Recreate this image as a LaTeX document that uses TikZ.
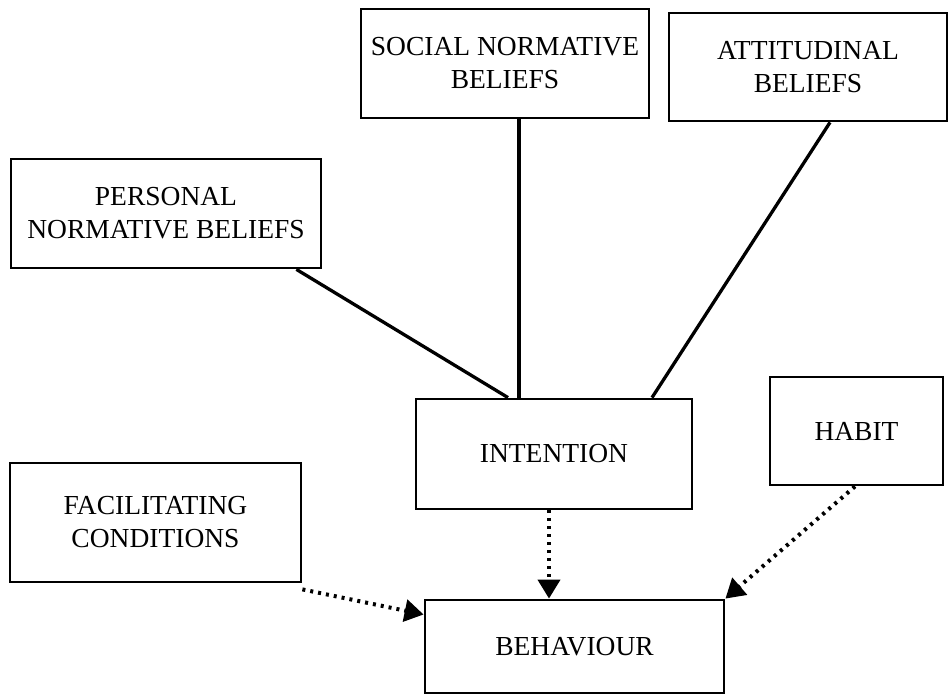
\documentclass[tikz,border=0pt]{standalone}
\usepackage{fontspec}
\setmainfont{Liberation Serif}
\usetikzlibrary{arrows.meta}
\begin{document}
\begin{tikzpicture}[x=1pt,y=1pt,
  box/.style={draw=black, line width=2.8pt, rectangle, inner sep=0pt, align=center,
    font=\fontsize{27.5}{33}\selectfont},
  conn/.style={draw=black, line width=3.3pt},
  dotarrow/.style={draw=black, line width=4pt, dash pattern=on 3pt off 5pt,
    -{Triangle[length=19pt,width=22pt]}}]
\useasboundingbox (0,0) rectangle (949,696);
\fill[white] (0,0) rectangle (949,696);
\node[box, minimum width=288pt, minimum height=109pt] (soc) at (505,632.5) {SOCIAL NORMATIVE\\BELIEFS};
\node[box, minimum width=278pt, minimum height=108pt] (att) at (808,629) {ATTITUDINAL\\BELIEFS};
\node[box, minimum width=310pt, minimum height=109pt] (per) at (166,482.5) {PERSONAL\\NORMATIVE BELIEFS};
\node[box, minimum width=276pt, minimum height=110pt] (int) at (554,242) {INTENTION};
\node[box, minimum width=173pt, minimum height=108pt] (hab) at (856.5,265) {HABIT};
\node[box, minimum width=291pt, minimum height=119pt] (fac) at (155.5,173.5) {FACILITATING\\CONDITIONS};
\node[box, minimum width=299pt, minimum height=93pt] (beh) at (574.5,49.5) {\raisebox{-9pt}{BEHAVIOUR}};
\draw[conn] ([xshift=-26pt]per.south east) -- ([xshift=-46pt]int.north);
\draw[conn] ([xshift=14pt]soc.south) -- ([xshift=-35pt]int.north);
\draw[conn] ([xshift=22pt]att.south) -- ([xshift=98pt]int.north);
\draw[dotarrow] ([xshift=-5pt]int.south) -- ([xshift=-25.5pt]beh.north);
\draw[dotarrow] ([xshift=-1.5pt]hab.south) -- (beh.north east);
\draw[dotarrow] ([yshift=-6pt]fac.south east) -- ([yshift=32pt]beh.west);
\end{tikzpicture}
\end{document}
